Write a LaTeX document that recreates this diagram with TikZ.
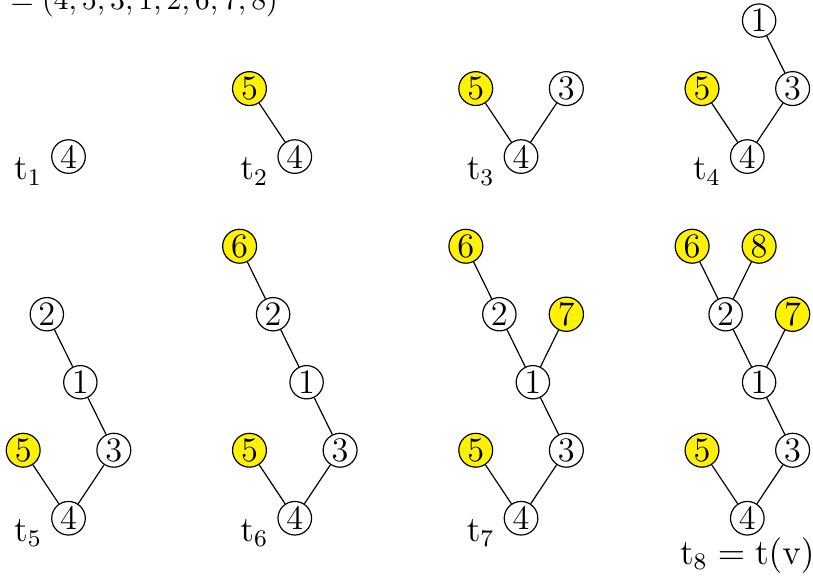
\documentclass[tikz,border=0pt]{standalone}
\usepackage{amsmath,amssymb}
\usepackage{tikz}
\usetikzlibrary{positioning,calc}

\begin{document}
\begin{tikzpicture}[
  vert/.style={draw=black, circle, inner sep=0.6pt, fill=white, font=\fontsize{11.5}{13}\selectfont},
  newv/.style={vert, fill=yellow},
  lab/.style={inner sep=3.33pt, font=\fontsize{11.5}{13}\selectfont}
]
\useasboundingbox (0,0) rectangle (9.565,6.835);

% --- Suite (coupée en haut)
\node[anchor=base west, inner sep=0pt, font=\fontsize{10.3}{12}\selectfont] (seq) at (0.118,6.724) {$=(4,5,3,1,2,6,7,8)$};

% --- t_1
\node[vert] (t1n4) at (0.806,4.993) {4};
\node[lab, left=-0.5pt of t1n4, yshift=-5pt] (t1lab) {$\mathrm{t}_1$};

% --- t_2
\node[vert] (t2n4) at (3.468,4.993) {4};
\node[newv] (t2n5) at (2.935,5.793) {5};
\node[lab, left=-0.5pt of t2n4, yshift=-5pt] (t2lab) {$\mathrm{t}_2$};
\draw (t2n4) -- (t2n5);

% --- t_3
\node[vert] (t3n4) at (6.130,4.993) {4};
\node[newv] (t3n5) at (5.597,5.793) {5};
\node[vert] (t3n3) at (6.663,5.793) {3};
\node[lab, left=-0.5pt of t3n4, yshift=-5pt] (t3lab) {$\mathrm{t}_3$};
\draw (t3n4) -- (t3n5);
\draw (t3n4) -- (t3n3);

% --- t_4
\node[vert] (t4n4) at (8.792,4.993) {4};
\node[newv] (t4n5) at (8.259,5.793) {5};
\node[vert] (t4n3) at (9.325,5.793) {3};
\node[vert] (t4n1) at (8.931,6.593) {1};
\node[lab, left=-0.5pt of t4n4, yshift=-5pt] (t4lab) {$\mathrm{t}_4$};
\draw (t4n4) -- (t4n5);
\draw (t4n4) -- (t4n3);
\draw (t4n3) -- (t4n1);

% --- t_5
\node[vert] (t5n4) at (0.806,0.738) {4};
\node[newv] (t5n5) at (0.273,1.538) {5};
\node[vert] (t5n3) at (1.339,1.538) {3};
\node[vert] (t5n1) at (0.945,2.338) {1};
\node[vert] (t5n2) at (0.551,3.138) {2};
\node[lab, left=-0.5pt of t5n4, yshift=-5pt] (t5lab) {$\mathrm{t}_5$};
\draw (t5n4) -- (t5n5);
\draw (t5n4) -- (t5n3);
\draw (t5n3) -- (t5n1);
\draw (t5n1) -- (t5n2);

% --- t_6
\node[vert] (t6n4) at (3.468,0.738) {4};
\node[newv] (t6n5) at (2.935,1.538) {5};
\node[vert] (t6n3) at (4.001,1.538) {3};
\node[vert] (t6n1) at (3.607,2.338) {1};
\node[vert] (t6n2) at (3.213,3.138) {2};
\node[newv] (t6n6) at (2.819,3.938) {6};
\node[lab, left=-0.5pt of t6n4, yshift=-5pt] (t6lab) {$\mathrm{t}_6$};
\draw (t6n4) -- (t6n5);
\draw (t6n4) -- (t6n3);
\draw (t6n3) -- (t6n1);
\draw (t6n1) -- (t6n2);
\draw (t6n2) -- (t6n6);

% --- t_7
\node[vert] (t7n4) at (6.130,0.738) {4};
\node[newv] (t7n5) at (5.597,1.538) {5};
\node[vert] (t7n3) at (6.663,1.538) {3};
\node[vert] (t7n1) at (6.269,2.338) {1};
\node[vert] (t7n2) at (5.875,3.138) {2};
\node[newv] (t7n7) at (6.663,3.138) {7};
\node[newv] (t7n6) at (5.481,3.938) {6};
\node[lab, left=-0.5pt of t7n4, yshift=-5pt] (t7lab) {$\mathrm{t}_7$};
\draw (t7n4) -- (t7n5);
\draw (t7n4) -- (t7n3);
\draw (t7n3) -- (t7n1);
\draw (t7n1) -- (t7n2);
\draw (t7n1) -- (t7n7);
\draw (t7n2) -- (t7n6);

% --- t_8 = t(v)
\node[vert] (t8n4) at (8.792,0.738) {4};
\node[newv] (t8n5) at (8.259,1.538) {5};
\node[vert] (t8n3) at (9.325,1.538) {3};
\node[vert] (t8n1) at (8.931,2.338) {1};
\node[vert] (t8n2) at (8.537,3.138) {2};
\node[newv] (t8n7) at (9.325,3.138) {7};
\node[newv] (t8n6) at (8.143,3.938) {6};
\node[newv] (t8n8) at (8.931,3.938) {8};
\node[lab, below=-3pt of t8n4] (t8lab) {$\mathrm{t}_8 = \mathrm{t}(\mathrm{v})$};
\draw (t8n4) -- (t8n5);
\draw (t8n4) -- (t8n3);
\draw (t8n3) -- (t8n1);
\draw (t8n1) -- (t8n2);
\draw (t8n1) -- (t8n7);
\draw (t8n2) -- (t8n6);
\draw (t8n2) -- (t8n8);

\end{tikzpicture}
\end{document}
